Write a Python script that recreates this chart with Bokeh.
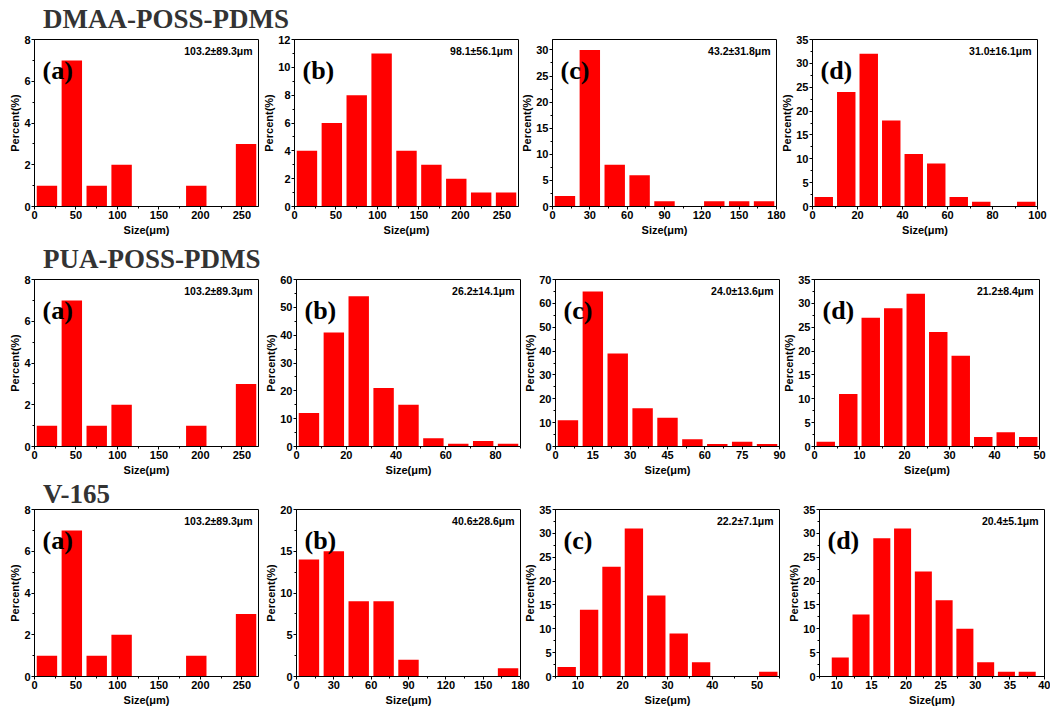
from bokeh.plotting import figure
from bokeh.models import Range1d, SingleIntervalTicker, Label, Div
from bokeh.layouts import row, column
from bokeh.embed import file_html
from bokeh.resources import INLINE

# ---------------- data ----------------
row_titles = ["DMAA-POSS-PDMS", "PUA-POSS-PDMS", "V-165"]
panel_letters = ["(a)", "(b)", "(c)", "(d)"]

# panel (a) is identical in every row
a_pct = [1, 7, 1, 2, 0, 0, 1, 0, 3]

dmaa_b_pct = [4, 6, 8, 11, 4, 3, 2, 1, 1]
dmaa_c_pct = [2, 30, 8, 6, 1, 0, 1, 1, 1]
dmaa_d_pct = [2, 24, 32, 18, 11, 9, 2, 1, 0, 1]

pua_b_pct = [12, 41, 54, 21, 15, 3, 1, 2, 1]
pua_c_pct = [11, 65, 39, 16, 12, 3, 1, 2, 1]
pua_d_pct = [1, 11, 27, 29, 32, 24, 19, 2, 3, 2]

v165_b_pct = [14, 15, 9, 9, 2, 0, 0, 0, 1]
v165_c_pct = [2, 14, 23, 31, 17, 9, 3, 0, 0, 1]
v165_d_pct = [4, 13, 29, 31, 22, 16, 10, 3, 1, 1]

# histogram bins (first bin start, bin width) per panel a..d
dmaa_bin_start = [0, 0, 0, 0]
dmaa_bin_width = [30, 30, 20, 10]
pua_bin_start = [0, 0, 0, 0]
pua_bin_width = [30, 10, 10, 5]
v165_bin_start = [0, 0, 5, 9]
v165_bin_width = [30, 20, 5, 3]

dmaa_stats = ["103.2±89.3μm", "98.1±56.1μm", "43.2±31.8μm", "31.0±16.1μm"]
pua_stats = ["103.2±89.3μm", "26.2±14.1μm", "24.0±13.6μm", "21.2±8.4μm"]
v165_stats = ["103.2±89.3μm", "40.6±28.6μm", "22.2±7.1μm", "20.4±5.1μm"]

# axes
dmaa_x_start = [0, 0, 0, 0]
dmaa_x_end = [270, 270, 180, 100]
dmaa_x_tick = [50, 50, 30, 20]
dmaa_y_end = [8, 12, 32, 35]
dmaa_y_tick = [2, 2, 5, 5]

pua_x_start = [0, 0, 0, 0]
pua_x_end = [270, 90, 90, 50]
pua_x_tick = [50, 20, 15, 10]
pua_y_end = [8, 60, 70, 35]
pua_y_tick = [2, 10, 10, 5]

v165_x_start = [0, 0, 5, 7.5]
v165_x_end = [270, 180, 55, 40]
v165_x_tick = [50, 30, 10, 5]
v165_y_end = [8, 20, 35, 35]
v165_y_tick = [2, 5, 5, 5]

x_label = "Size(μm)"
y_label = "Percent(%)"

# ---------------- layout constants (page pixels) ----------------
frame_w = [224, 224, 224, 225]
frame_left = [[34, 294, 552, 812], [34, 296, 555, 814], [34, 296, 555, 819]]
BORDER_L = 40   # left border reserved for the y axis (figures overlap)
BORDER_R = 12   # right border reserved for the last x tick label
PAGE_W = 1050
# (fig top, frame top, frame bottom, fig bottom)
row_v = [(30, 39, 206, 249), (269, 279, 446, 484), (504, 509, 676, 709)]
# (height, line height, padding-top) of the row-title blocks
div_v = [(30, 20, 9), (20, 20, 0), (20, 20, 0)]

SANS = "Liberation Sans"
SERIF = "Liberation Serif"


def make_panel(r, c, xs, xe, xt, ye, yt, pct, b0, bw, stat, letter):
    fl = frame_left[r][c]
    fr = fl + frame_w[c]
    fig_l = 0 if c == 0 else fl - BORDER_L
    fig_r = min(fr + BORDER_R, PAGE_W)
    if c == 0:
        ml = 0
    else:
        prev_r = frame_left[r][c - 1] + frame_w[c - 1] + BORDER_R
        ml = fig_l - prev_r
    top, ftop, fbot, bot = row_v[r]
    p = figure(width=fig_r - fig_l, height=bot - top,
               x_range=Range1d(xs, xe), y_range=Range1d(0, ye),
               output_backend="svg", toolbar_location=None,
               min_border_left=fl - fig_l, min_border_right=fig_r - fr,
               min_border_top=ftop - top, min_border_bottom=bot - fbot,
               background_fill_color="white", border_fill_color="white",
               border_fill_alpha=0.0, margin=(0, 0, 0, ml))
    centers = [b0 + bw * (i + 0.5) for i in range(len(pct))]
    p.vbar(x=centers, top=pct, bottom=0, width=bw * 0.82,
           fill_color="#ff0000", line_color=None)
    p.grid.visible = False
    p.outline_line_color = "black"
    p.outline_line_alpha = 1.0
    p.outline_line_width = 1
    p.xaxis.ticker = SingleIntervalTicker(interval=xt, num_minor_ticks=2)
    p.yaxis.ticker = SingleIntervalTicker(interval=yt, num_minor_ticks=2)
    p.xaxis.axis_label = x_label
    p.yaxis.axis_label = y_label
    for ax in (p.xaxis[0], p.yaxis[0]):
        ax.axis_line_color = "black"
        ax.major_tick_line_color = "black"
        ax.minor_tick_line_color = "black"
        ax.major_tick_out = 3
        ax.major_tick_in = 0
        ax.minor_tick_out = 2
        ax.minor_tick_in = 0
        ax.major_label_standoff = 1
        ax.major_label_text_font = SANS
        ax.major_label_text_font_style = "bold"
        ax.major_label_text_font_size = "11px"
        ax.major_label_text_color = "black"
        ax.axis_label_text_font = SANS
        ax.axis_label_text_font_style = "bold"
        ax.axis_label_text_font_size = "11px"
        ax.axis_label_text_color = "black"
    p.xaxis.axis_label_standoff = 2
    p.yaxis.axis_label_standoff = 0
    p.add_layout(Label(x=xe, y=ye, x_offset=-6, y_offset=-11, text=stat,
                       text_align="right", text_baseline="middle",
                       text_font=SANS, text_font_style="bold",
                       text_font_size="10.5px", text_color="black"))
    p.add_layout(Label(x=xs, y=ye, x_offset=8, y_offset=-31, text=letter,
                       text_align="left", text_baseline="alphabetic",
                       text_font=SERIF, text_font_style="bold",
                       text_font_size="26px", text_color="black"))
    return p


rows_data = [
    (dmaa_x_start, dmaa_x_end, dmaa_x_tick, dmaa_y_end, dmaa_y_tick,
     [a_pct, dmaa_b_pct, dmaa_c_pct, dmaa_d_pct], dmaa_bin_start, dmaa_bin_width, dmaa_stats),
    (pua_x_start, pua_x_end, pua_x_tick, pua_y_end, pua_y_tick,
     [a_pct, pua_b_pct, pua_c_pct, pua_d_pct], pua_bin_start, pua_bin_width, pua_stats),
    (v165_x_start, v165_x_end, v165_x_tick, v165_y_end, v165_y_tick,
     [a_pct, v165_b_pct, v165_c_pct, v165_d_pct], v165_bin_start, v165_bin_width, v165_stats),
]

items = []
for r, (xs, xe, xt, ye, yt, pcts, b0s, bws, stats) in enumerate(rows_data):
    dh, lh, pad = div_v[r]
    items.append(Div(
        text=('<div style="font-family:\'%s\';font-weight:bold;font-size:27px;'
              'line-height:%dpx;color:#333333;margin:0 0 0 43px;padding:%dpx 0 0 0;'
              'white-space:nowrap">%s</div>') % (SERIF, lh, pad, row_titles[r]),
        width=PAGE_W, height=dh, margin=0))
    figs = [make_panel(r, c, xs[c], xe[c], xt[c], ye[c], yt[c], pcts[c],
                       b0s[c], bws[c], stats[c], panel_letters[c]) for c in range(4)]
    items.append(row(*figs, spacing=0, margin=0))

layout = column(*items, spacing=0, margin=0)
open("out.html", "w").write(file_html(layout, INLINE))
